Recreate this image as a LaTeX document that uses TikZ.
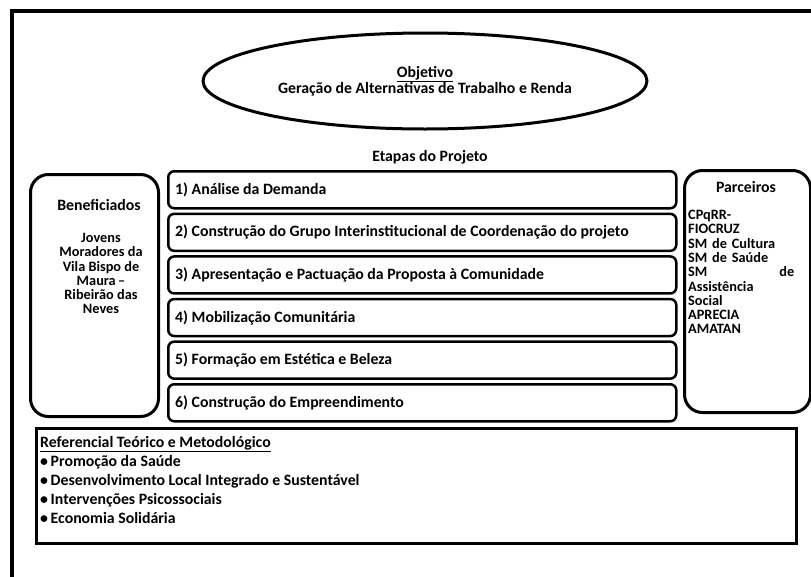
\documentclass[tikz,border=0pt]{standalone}
\usepackage{fontspec}
\setmainfont{Carlito}
\usetikzlibrary{shapes.geometric}
\begin{document}
\begin{tikzpicture}[x=1pt,y=-1pt,
  txt/.style={font=\fontsize{15.8}{16}\selectfont\bfseries},
  sidetxt/.style={font=\fontsize{14.3}{14.3}\selectfont\bfseries},
  stepbox/.style={draw, line width=2.5pt, rounded corners=6pt, minimum width=508pt, minimum height=37pt, inner sep=0pt, anchor=north west},
  sidebox/.style={draw, line width=3pt, rounded corners=18pt, inner sep=0pt, anchor=north west},
  steptxt/.style={txt, anchor=west, inner sep=0pt}]
\clip (0,0) rectangle (811,576);
\useasboundingbox (0,0) rectangle (811,576);
% outer frame
\node[draw, line width=4pt, minimum width=840pt, minimum height=600pt, anchor=north west, inner sep=0pt] (frame) at (10,9) {};
% objective ellipse
\node[ellipse, draw, line width=3pt, minimum width=444pt, minimum height=96pt, inner sep=0pt, txt, align=center] (obj) at (425,81)
  {\underline{Objetivo}\\Geração de Alternativas de Trabalho e Renda};
\node[txt, inner sep=0pt] (etapas) at (430,157) {Etapas do Projeto};
% steps
\foreach \i/\t in {0/{1) Análise da Demanda},
                   1/{2) Construção do Grupo Interinstitucional de Coordenação do projeto},
                   2/{3) Apresentação e Pactuação da Proposta à Comunidade},
                   3/{4) Mobilização Comunitária},
                   4/{5) Formação em Estética e Beleza},
                   5/{6) Construção do Empreendimento}} {
  \node[stepbox] (s\i) at (167,{170+42.6*\i}) {};
  \node[steptxt] (t\i) at ([xshift=8pt]s\i.west) {\t};
}
% Beneficiados
\node[sidebox, minimum width=128pt, minimum height=242pt] (benef) at (29,173) {};
\node[txt, inner sep=0pt] (benefT) at (99,205) {Beneficiados};
\node[sidetxt, align=center, anchor=north, inner sep=0pt] (benefL) at (101,233)
  {Jovens\\Moradores da\\Vila Bispo de\\Maura\,–\\Ribeirão das\\Neves};
% Parceiros
\node[sidebox, minimum width=126pt, minimum height=242pt] (parc) at (683,169) {};
\node[txt, inner sep=0pt] (parcT) at (746,187) {Parceiros};
\node[sidetxt, align=left, anchor=north west, inner sep=0pt, text width=106pt] (parcL) at (688,210)
  {CPqRR-\\FIOCRUZ\\SM de Cultura\\SM de Saúde\\SM\hfill de\\Assistência\\Social\\APRECIA\\AMATAN};
% Referencial
\node[draw, line width=3pt, minimum width=760pt, minimum height=115pt, anchor=north west, inner sep=0pt] (ref) at (35,427) {};
\node[txt, align=left, anchor=north west, inner sep=0pt, font=\fontsize{15.8}{19}\selectfont\bfseries] (refL) at (40,436)
  {\underline{Referencial Teórico e Metodológico}\\
   •\,Promoção da Saúde\\
   •\,Desenvolvimento Local Integrado e Sustentável\\
   •\,Intervenções Psicossociais\\
   •\,Economia Solidária};
\end{tikzpicture}
\end{document}
